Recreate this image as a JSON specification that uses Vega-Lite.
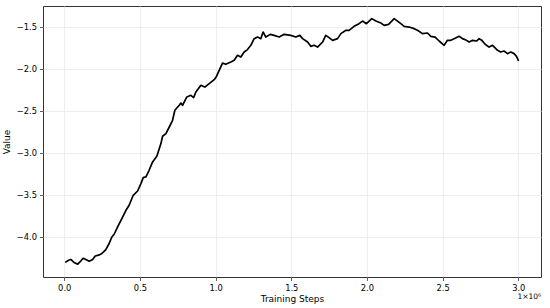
{
  "$schema": "https://vega.github.io/schema/vega-lite/v6.json",
  "width": 498,
  "height": 271,
  "autosize": {"type": "none"},
  "padding": {"left": 43, "top": 6, "right": 9, "bottom": 31},
  "background": "white",
  "config": {
    "font": "DejaVu Sans",
    "view": {"stroke": "#333333", "strokeWidth": 1},
    "axis": {
      "domain": false,
      "grid": true,
      "gridColor": "#e8e8e8",
      "gridWidth": 0.8,
      "tickColor": "#333333",
      "tickSize": 3.5,
      "tickWidth": 0.8,
      "labelFont": "DejaVu Sans",
      "labelFontSize": 8.3,
      "labelColor": "#000000",
      "titleFont": "DejaVu Sans",
      "titleFontSize": 9,
      "titleFontWeight": "normal",
      "titleColor": "#000000"
    }
  },
  "title": {
    "text": "1×10⁶",
    "orient": "bottom",
    "anchor": "end",
    "frame": "group",
    "fontSize": 7.5,
    "fontWeight": "normal",
    "font": "DejaVu Sans",
    "color": "#000000",
    "offset": -11
  },
  "data": {
    "values": [
      {"step": 0.011, "value": -4.291},
      {"step": 0.029, "value": -4.271},
      {"step": 0.044, "value": -4.262},
      {"step": 0.066, "value": -4.298},
      {"step": 0.089, "value": -4.318},
      {"step": 0.104, "value": -4.291},
      {"step": 0.125, "value": -4.247},
      {"step": 0.143, "value": -4.262},
      {"step": 0.165, "value": -4.283},
      {"step": 0.188, "value": -4.262},
      {"step": 0.205, "value": -4.220},
      {"step": 0.227, "value": -4.211},
      {"step": 0.249, "value": -4.191},
      {"step": 0.275, "value": -4.144},
      {"step": 0.297, "value": -4.072},
      {"step": 0.315, "value": -3.994},
      {"step": 0.330, "value": -3.962},
      {"step": 0.353, "value": -3.875},
      {"step": 0.375, "value": -3.796},
      {"step": 0.408, "value": -3.677},
      {"step": 0.429, "value": -3.617},
      {"step": 0.456, "value": -3.499},
      {"step": 0.485, "value": -3.448},
      {"step": 0.507, "value": -3.360},
      {"step": 0.522, "value": -3.289},
      {"step": 0.540, "value": -3.281},
      {"step": 0.561, "value": -3.202},
      {"step": 0.584, "value": -3.103},
      {"step": 0.612, "value": -3.036},
      {"step": 0.639, "value": -2.885},
      {"step": 0.650, "value": -2.798},
      {"step": 0.672, "value": -2.766},
      {"step": 0.700, "value": -2.667},
      {"step": 0.716, "value": -2.608},
      {"step": 0.731, "value": -2.489},
      {"step": 0.760, "value": -2.430},
      {"step": 0.771, "value": -2.403},
      {"step": 0.782, "value": -2.430},
      {"step": 0.810, "value": -2.331},
      {"step": 0.837, "value": -2.311},
      {"step": 0.855, "value": -2.338},
      {"step": 0.870, "value": -2.272},
      {"step": 0.903, "value": -2.192},
      {"step": 0.929, "value": -2.213},
      {"step": 0.958, "value": -2.172},
      {"step": 0.991, "value": -2.125},
      {"step": 1.005, "value": -2.090},
      {"step": 1.024, "value": -2.014},
      {"step": 1.046, "value": -1.928},
      {"step": 1.067, "value": -1.943},
      {"step": 1.101, "value": -1.916},
      {"step": 1.123, "value": -1.895},
      {"step": 1.145, "value": -1.836},
      {"step": 1.167, "value": -1.856},
      {"step": 1.189, "value": -1.797},
      {"step": 1.211, "value": -1.768},
      {"step": 1.233, "value": -1.717},
      {"step": 1.255, "value": -1.638},
      {"step": 1.277, "value": -1.619},
      {"step": 1.299, "value": -1.638},
      {"step": 1.314, "value": -1.559},
      {"step": 1.332, "value": -1.619},
      {"step": 1.361, "value": -1.587},
      {"step": 1.387, "value": -1.599},
      {"step": 1.420, "value": -1.619},
      {"step": 1.453, "value": -1.587},
      {"step": 1.497, "value": -1.599},
      {"step": 1.530, "value": -1.619},
      {"step": 1.557, "value": -1.599},
      {"step": 1.575, "value": -1.638},
      {"step": 1.608, "value": -1.678},
      {"step": 1.629, "value": -1.729},
      {"step": 1.651, "value": -1.717},
      {"step": 1.674, "value": -1.738},
      {"step": 1.707, "value": -1.678},
      {"step": 1.728, "value": -1.599},
      {"step": 1.750, "value": -1.626},
      {"step": 1.773, "value": -1.658},
      {"step": 1.806, "value": -1.638},
      {"step": 1.828, "value": -1.578},
      {"step": 1.861, "value": -1.539},
      {"step": 1.882, "value": -1.539},
      {"step": 1.915, "value": -1.492},
      {"step": 1.948, "value": -1.460},
      {"step": 1.971, "value": -1.429},
      {"step": 1.997, "value": -1.460},
      {"step": 2.032, "value": -1.400},
      {"step": 2.059, "value": -1.429},
      {"step": 2.092, "value": -1.452},
      {"step": 2.114, "value": -1.480},
      {"step": 2.143, "value": -1.468},
      {"step": 2.169, "value": -1.420},
      {"step": 2.180, "value": -1.400},
      {"step": 2.202, "value": -1.429},
      {"step": 2.224, "value": -1.460},
      {"step": 2.246, "value": -1.492},
      {"step": 2.279, "value": -1.500},
      {"step": 2.312, "value": -1.519},
      {"step": 2.334, "value": -1.539},
      {"step": 2.367, "value": -1.578},
      {"step": 2.400, "value": -1.571},
      {"step": 2.422, "value": -1.610},
      {"step": 2.450, "value": -1.619},
      {"step": 2.477, "value": -1.666},
      {"step": 2.510, "value": -1.717},
      {"step": 2.532, "value": -1.658},
      {"step": 2.554, "value": -1.658},
      {"step": 2.576, "value": -1.638},
      {"step": 2.609, "value": -1.610},
      {"step": 2.631, "value": -1.638},
      {"step": 2.658, "value": -1.658},
      {"step": 2.675, "value": -1.678},
      {"step": 2.698, "value": -1.658},
      {"step": 2.724, "value": -1.666},
      {"step": 2.741, "value": -1.638},
      {"step": 2.759, "value": -1.658},
      {"step": 2.781, "value": -1.705},
      {"step": 2.807, "value": -1.738},
      {"step": 2.830, "value": -1.717},
      {"step": 2.863, "value": -1.777},
      {"step": 2.884, "value": -1.797},
      {"step": 2.906, "value": -1.785},
      {"step": 2.929, "value": -1.816},
      {"step": 2.950, "value": -1.797},
      {"step": 2.972, "value": -1.816},
      {"step": 2.988, "value": -1.848},
      {"step": 3.000, "value": -1.895}
    ]
  },
  "mark": {"type": "line", "color": "#000000", "strokeWidth": 1.7, "strokeJoin": "round", "strokeCap": "round"},
  "encoding": {
    "x": {
      "field": "step",
      "type": "quantitative",
      "scale": {"domain": [-0.14, 3.15], "nice": false, "zero": false},
      "axis": {"title": "Training Steps", "values": [0, 0.5, 1, 1.5, 2, 2.5, 3], "format": ".1f", "labelPadding": 3, "titlePadding": 3}
    },
    "y": {
      "field": "value",
      "type": "quantitative",
      "scale": {"domain": [-4.47, -1.25], "nice": false, "zero": false},
      "axis": {"title": "Value", "values": [-4, -3.5, -3, -2.5, -2, -1.5], "format": ".1f", "labelPadding": 3, "titlePadding": 5}
    }
  }
}
